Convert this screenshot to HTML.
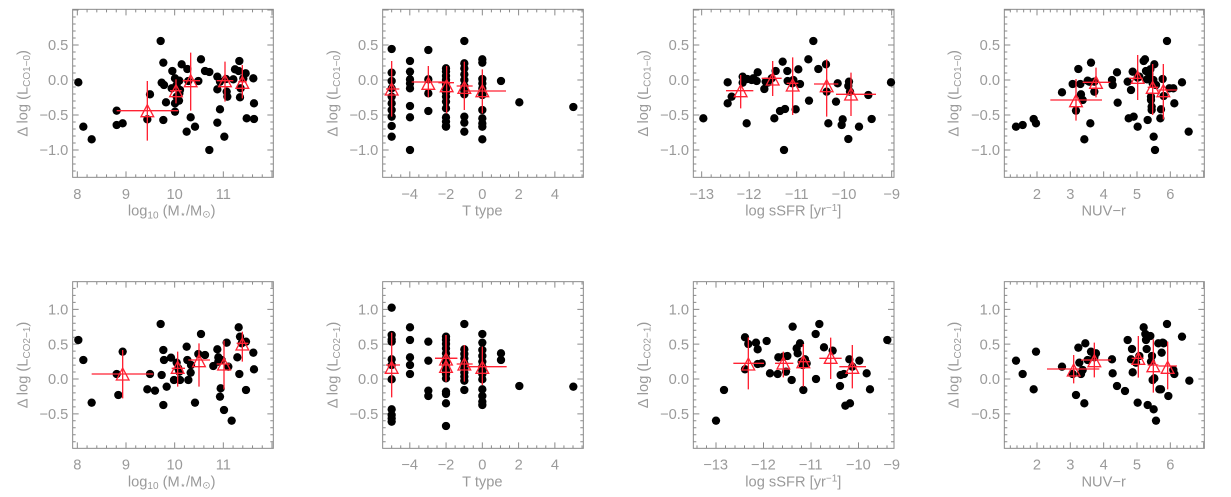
<!DOCTYPE html>
<html><head><meta charset="utf-8"><style>
html,body{margin:0;padding:0;background:#fff;}
svg{display:block;font-family:"Liberation Sans","DejaVu Sans",sans-serif;}
.t{fill:#9a9a9a;font-size:44px;}
</style></head><body>
<svg id="s" width="1231" height="497" viewBox="0 0 1231 497" xmlns="http://www.w3.org/2000/svg">
<g id="p0" transform="translate(0,0) scale(0.33333)">
 <text class="t" x="205" y="150" text-anchor="end">0.5</text><text class="t" x="205" y="255" text-anchor="end">0.0</text><text class="t" x="205" y="360" text-anchor="end">−0.5</text><text class="t" x="205" y="465" text-anchor="end">−1.0</text>
 <text class="t" x="232" y="597" text-anchor="middle">8</text><text class="t" x="378" y="597" text-anchor="middle">9</text><text class="t" x="524" y="597" text-anchor="middle">10</text><text class="t" x="670" y="597" text-anchor="middle">11</text>
 <text class="t" x="515" y="647" text-anchor="middle">log<tspan font-size="30" dy="8">10</tspan><tspan dy="-8"> (M</tspan><tspan font-size="30" dy="6">⋆</tspan><tspan dy="-6">/M</tspan><tspan font-size="30" dy="6">⊙</tspan><tspan dy="-6">)</tspan></text>
 <text class="t" transform="translate(82,280) rotate(-90)" text-anchor="middle">Δ log (L<tspan font-size="30" dy="8">CO1−0</tspan><tspan dy="-8">)</tspan></text>
</g>
<g id="p1" transform="translate(310,0) scale(0.33333)">
 <text class="t" x="205" y="150" text-anchor="end">0.5</text><text class="t" x="205" y="255" text-anchor="end">0.0</text><text class="t" x="205" y="360" text-anchor="end">−0.5</text><text class="t" x="205" y="465" text-anchor="end">−1.0</text>
 <text class="t" x="299" y="597" text-anchor="middle">−4</text><text class="t" x="408" y="597" text-anchor="middle">−2</text><text class="t" x="517" y="597" text-anchor="middle">0</text><text class="t" x="626" y="597" text-anchor="middle">2</text><text class="t" x="735" y="597" text-anchor="middle">4</text>
 <text class="t" x="517" y="647" text-anchor="middle">T  type</text>
 <text class="t" transform="translate(82,280) rotate(-90)" text-anchor="middle">Δ log (L<tspan font-size="30" dy="8">CO1−0</tspan><tspan dy="-8">)</tspan></text>
</g>
<g id="p2" transform="translate(620,0) scale(0.33333)">
 <text class="t" x="207" y="150" text-anchor="end">0.5</text><text class="t" x="207" y="255" text-anchor="end">0.0</text><text class="t" x="207" y="360" text-anchor="end">−0.5</text><text class="t" x="207" y="465" text-anchor="end">−1.0</text>
 <text class="t" x="245" y="597" text-anchor="middle">−13</text><text class="t" x="387" y="597" text-anchor="middle">−12</text><text class="t" x="530" y="597" text-anchor="middle">−11</text><text class="t" x="672" y="597" text-anchor="middle">−10</text><text class="t" x="815" y="597" text-anchor="middle">−9</text>
 <text class="t" x="520" y="647" text-anchor="middle">log sSFR [yr<tspan font-size="30" dy="-14">−1</tspan><tspan dy="14">]</tspan></text>
 <text class="t" transform="translate(84,280) rotate(-90)" text-anchor="middle">Δ log (L<tspan font-size="30" dy="8">CO1−0</tspan><tspan dy="-8">)</tspan></text>
</g>
<g id="p3" transform="translate(921,0) scale(0.33333)">
 <text class="t" x="237" y="150" text-anchor="end">0.5</text><text class="t" x="237" y="255" text-anchor="end">0.0</text><text class="t" x="237" y="360" text-anchor="end">−0.5</text><text class="t" x="237" y="465" text-anchor="end">−1.0</text>
 <text class="t" x="348" y="597" text-anchor="middle">2</text><text class="t" x="448" y="597" text-anchor="middle">3</text><text class="t" x="548" y="597" text-anchor="middle">4</text><text class="t" x="648" y="597" text-anchor="middle">5</text><text class="t" x="748" y="597" text-anchor="middle">6</text>
 <text class="t" x="548" y="647" text-anchor="middle">NUV−r</text>
 <text class="t" transform="translate(112,280) rotate(-90)" text-anchor="middle">Δ log (L<tspan font-size="30" dy="8">CO1−0</tspan><tspan dy="-8">)</tspan></text>
</g>
<g id="p4" transform="translate(0,250) scale(0.33333)">
 <text class="t" x="205" y="193" text-anchor="end">1.0</text><text class="t" x="205" y="298" text-anchor="end">0.5</text><text class="t" x="205" y="402" text-anchor="end">0.0</text><text class="t" x="205" y="507" text-anchor="end">−0.5</text>
 <text class="t" x="232" y="659" text-anchor="middle">8</text><text class="t" x="378" y="659" text-anchor="middle">9</text><text class="t" x="524" y="659" text-anchor="middle">10</text><text class="t" x="670" y="659" text-anchor="middle">11</text>
 <text class="t" x="515" y="709" text-anchor="middle">log<tspan font-size="30" dy="8">10</tspan><tspan dy="-8"> (M</tspan><tspan font-size="30" dy="6">⋆</tspan><tspan dy="-6">/M</tspan><tspan font-size="30" dy="6">⊙</tspan><tspan dy="-6">)</tspan></text>
 <text class="t" transform="translate(82,345) rotate(-90)" text-anchor="middle">Δ log (L<tspan font-size="30" dy="8">CO2−1</tspan><tspan dy="-8">)</tspan></text>
</g>
<g id="p5" transform="translate(310,250) scale(0.33333)">
 <text class="t" x="205" y="193" text-anchor="end">1.0</text><text class="t" x="205" y="298" text-anchor="end">0.5</text><text class="t" x="205" y="402" text-anchor="end">0.0</text><text class="t" x="205" y="507" text-anchor="end">−0.5</text>
 <text class="t" x="299" y="659" text-anchor="middle">−4</text><text class="t" x="408" y="659" text-anchor="middle">−2</text><text class="t" x="517" y="659" text-anchor="middle">0</text><text class="t" x="626" y="659" text-anchor="middle">2</text><text class="t" x="735" y="659" text-anchor="middle">4</text>
 <text class="t" x="517" y="709" text-anchor="middle">T  type</text>
 <text class="t" transform="translate(82,345) rotate(-90)" text-anchor="middle">Δ log (L<tspan font-size="30" dy="8">CO2−1</tspan><tspan dy="-8">)</tspan></text>
</g>
<g id="p6" transform="translate(620,250) scale(0.33333)">
 <text class="t" x="207" y="193" text-anchor="end">1.0</text><text class="t" x="207" y="298" text-anchor="end">0.5</text><text class="t" x="207" y="402" text-anchor="end">0.0</text><text class="t" x="207" y="507" text-anchor="end">−0.5</text>
 <text class="t" x="287" y="659" text-anchor="middle">−13</text><text class="t" x="430" y="659" text-anchor="middle">−12</text><text class="t" x="572" y="659" text-anchor="middle">−11</text><text class="t" x="715" y="659" text-anchor="middle">−10</text><text class="t" x="815" y="659" text-anchor="middle">−9</text>
 <text class="t" x="520" y="709" text-anchor="middle">log sSFR [yr<tspan font-size="30" dy="-14">−1</tspan><tspan dy="14">]</tspan></text>
 <text class="t" transform="translate(84,345) rotate(-90)" text-anchor="middle">Δ log (L<tspan font-size="30" dy="8">CO2−1</tspan><tspan dy="-8">)</tspan></text>
</g>
<g id="p7" transform="translate(921,250) scale(0.33333)">
 <text class="t" x="237" y="193" text-anchor="end">1.0</text><text class="t" x="237" y="298" text-anchor="end">0.5</text><text class="t" x="237" y="402" text-anchor="end">0.0</text><text class="t" x="237" y="507" text-anchor="end">−0.5</text>
 <text class="t" x="348" y="659" text-anchor="middle">2</text><text class="t" x="448" y="659" text-anchor="middle">3</text><text class="t" x="548" y="659" text-anchor="middle">4</text><text class="t" x="648" y="659" text-anchor="middle">5</text><text class="t" x="748" y="659" text-anchor="middle">6</text>
 <text class="t" x="548" y="709" text-anchor="middle">NUV−r</text>
 <text class="t" transform="translate(112,345) rotate(-90)" text-anchor="middle">Δ log (L<tspan font-size="30" dy="8">CO2−1</tspan><tspan dy="-8">)</tspan></text>
</g>
</svg>
<script>
var NS="http://www.w3.org/2000/svg";
function el(p,n,a){var e=document.createElementNS(NS,n);for(var k in a)e.setAttribute(k,a[k]);p.appendChild(e);return e;}
var RT={y0:28,y1:532,yf:function(v){return 240-210*v},ymin:-1.4,ymax:1.0};
var RB={y0:95,y1:595,yf:function(v){return 387-209*v},ymin:-1.0,ymax:1.4};
var cols=[
 {x0:218,x1:820,xf:function(v){return 232+146*(v-8)},xmin:7.9,xmax:12,maj:1,mn:0.2},
 {x0:218,x1:820,xf:function(v){return 517+54.4*v},xmin:-5.5,xmax:5.5,maj:2,mn:0.5},
 {x0:220,x1:822,xf:function(v){return 245+142.5*(v+13)},xmin:-13.2,xmax:-9,maj:1,mn:0.2},
 {x0:250,x1:850,xf:function(v){return 348+100*(v-2)},xmin:1,xmax:7,maj:1,mn:0.2}
];
var col6={x0:220,x1:822,xf:function(v){return 288+142.5*(v+13)},xmin:-13.5,xmax:-8.9,maj:1,mn:0.2};
function T(col,ys){return ys.map(function(y){return [col,y]});}
var P=[];
P[0]={pts:[[235,247],[250,380],[275,418],[350,332],[350,375],[368,370],[442,358],[450,283],[482,123],[490,188],[485,248],[492,255],[490,360],[498,307],[517,213],[515,265],[525,235],[530,255],[525,335],[525,310],[538,280],[537,302],[538,242],[545,193],[560,395],[562,207],[565,243],[572,352],[585,380],[595,243],[603,178],[615,213],[628,216],[628,450],[652,230],[652,268],[652,368],[660,245],[660,328],[673,410],[678,237],[682,290],[680,275],[700,238],[705,208],[716,213],[718,183],[720,292],[722,265],[730,235],[737,220],[740,355],[760,235],[762,310],[762,357],[540,270],[530,290]],
 red:[[442,335,243,422,350,535,332],[528,275,238,310,510,545,272],[572,245,158,332,548,600,242],[675,245,185,305,650,700,242],[727,250,195,295,715,740,245]]};
P[1]={pts:[].concat(T(245,[147,218,243,265,290,310,330,350,378,410]),T(300,[183,215,238,250,265,318,352,450]),T(355,[150,238,280,333]),T(408,[205,215,228,240,252,265,278,290,305,325,352,365,378,380]),T(463,[123,190,205,223,240,258,272,283,350,368,395]),T(517,[178,188,237,250,265,285,330,355,370,380,418]),[[573,243],[628,307],[790,321]]),
 red:[[245,270,183,350,228,268,267],[355,253,198,292,305,405,246],[410,260,198,340,385,432,248],[463,265,185,330,440,488,258],[517,275,208,340,460,588,273]]};
P[2]={pts:[[250,355],[323,310],[323,247],[335,290],[368,230],[368,248],[380,370],[382,237],[395,240],[400,235],[413,217],[410,243],[433,267],[437,245],[443,248],[467,213],[463,355],[480,333],[488,185],[495,327],[492,450],[502,213],[503,243],[517,250],[527,328],[535,208],[540,252],[565,178],[567,302],[580,123],[595,207],[618,193],[620,275],[625,370],[648,305],[653,250],[665,375],[668,358],[685,417],[685,258],[687,245],[690,275],[717,380],[745,285],[755,357],[813,247],[455,235],[520,240]],
 red:[[362,275,225,325,318,400,272],[458,240,183,288,425,485,235],[518,258,172,345,500,535,250],[620,260,178,350,582,655,252],[693,285,218,348,648,768,283]]};
P[3]={pts:[[285,380],[305,375],[338,357],[345,370],[423,277],[455,252],[465,332],[472,207],[478,252],[480,283],[485,300],[490,418],[500,242],[505,245],[510,188],[508,370],[520,275],[520,245],[573,240],[575,255],[588,217],[590,308],[620,245],[623,355],[630,270],[635,215],[638,350],[650,380],[650,233],[655,230],[668,183],[672,178],[675,213],[678,238],[680,360],[685,222],[688,208],[690,290],[692,330],[692,320],[695,250],[697,240],[698,410],[700,193],[702,450],[705,255],[718,355],[720,328],[725,237],[728,288],[738,123],[745,265],[757,265],[760,310],[783,247],[803,395],[690,300]],
 red:[[465,305,237,362,388,543,300],[525,250,203,292,485,568,247],[650,235,165,300,625,665,235],[695,265,192,345,680,712,262],[727,275,192,358,712,768,270]]};
P[4]={pts:[[235,270],[250,330],[275,458],[350,372],[355,435],[368,305],[442,418],[450,372],[465,422],[482,222],[485,375],[490,300],[492,330],[490,465],[500,410],[513,323],[522,390],[530,338],[535,355],[540,390],[538,365],[560,290],[562,330],[565,390],[572,368],[573,345],[585,458],[595,312],[603,252],[615,315],[640,348],[652,298],[655,322],[660,440],[662,415],[672,480],[680,278],[685,350],[695,512],[712,322],[716,232],[718,372],[720,260],[725,280],[738,275],[738,420],[760,308],[762,358],[655,335],[665,330]],
 red:[[368,375,300,445,275,460,372],[533,355,305,410,515,555,355],[597,335,280,410,565,630,330],[672,345,272,418,650,690,342],[727,285,245,335,710,745,280]]};
P[5]={pts:[].concat(T(245,[173,255,268,275,328,345,388,478,495,505,515]),T(300,[232,270,322,345,372]),T(355,[275,332,422,438]),T(408,[260,270,282,295,310,325,338,350,362,372,385,425,432,460,528]),T(463,[222,298,312,325,340,355,368,380,392,420]),T(517,[252,278,300,318,335,350,362,372,388,418,438,455,465]),[[573,310],[573,330],[628,408],[790,410]]),
 red:[[245,355,248,442,228,270,345],[408,330,255,395,375,442,325],[408,352,255,395,375,442,325],[463,345,285,395,440,488,342],[517,355,290,405,470,590,350]]};
P[6]={pts:[[288,512],[312,420],[375,262],[375,358],[385,282],[408,278],[413,298],[413,342],[425,340],[440,273],[450,370],[473,372],[475,322],[490,320],[498,365],[502,318],[515,390],[518,230],[530,295],[533,310],[540,280],[548,345],[550,420],[555,328],[560,340],[587,252],[588,387],[598,222],[612,292],[638,302],[660,408],[662,375],[672,372],[676,467],[690,460],[688,328],[697,350],[718,332],[740,370],[750,418],[802,270],[545,335]],
 red:[[385,345,262,418,340,432,340],[490,342,305,382,465,520,340],[550,338,282,410,535,570,335],[632,325,263,387,598,665,325],[697,355,285,415,658,738,350]]};
P[7]={pts:[[285,332],[305,372],[338,418],[345,305],[423,350],[455,372],[465,435],[472,293],[475,338],[480,372],[485,360],[490,460],[493,280],[500,330],[510,305],[520,322],[525,310],[573,328],[575,370],[588,408],[612,423],[620,270],[630,328],[633,297],[635,367],[645,338],[650,458],[655,318],[668,232],[673,252],[675,270],[677,297],[680,465],[688,258],[690,335],[693,318],[695,390],[698,478],[700,385],[705,512],[712,280],[715,418],[720,418],[722,308],[725,278],[728,280],[738,222],[742,438],[757,360],[760,372],[783,260],[805,392]],
 red:[[458,363,315,400,378,535,357],[520,335,278,382,480,570,330],[652,328,258,383,632,668,325],[697,350,268,428,680,712,345],[740,355,275,418,712,768,348]]};
for(var i=0;i<8;i++){
 var g=document.getElementById('p'+i),c=(i==6)?col6:cols[i%4],r=i<4?RT:RB,ax='#8a8a8a';
 el(g,'rect',{x:c.x0,y:r.y0,width:c.x1-c.x0,height:r.y1-r.y0,fill:'none',stroke:ax,'stroke-width':3});
 var d='';
 for(var v=Math.ceil(r.ymin*10-1e-6);v<=r.ymax*10+1e-6;v++){var y=r.yf(v/10);if(y<r.y0+1||y>r.y1-1)continue;var L=(v%5==0)?18:9;d+='M'+c.x0+' '+y+'h'+L+'M'+c.x1+' '+y+'h'+(-L);}
 var n0=Math.ceil(c.xmin/c.mn-1e-6),n1=Math.floor(c.xmax/c.mn+1e-6);
 for(var k=n0;k<=n1;k++){var xv=k*c.mn,x=c.xf(xv);if(x<c.x0+1||x>c.x1-1)continue;var mj=Math.abs(xv/c.maj-Math.round(xv/c.maj))<1e-6;var L=mj?18:9;d+='M'+x+' '+r.y1+'v'+(-L)+'M'+x+' '+r.y0+'v'+L;}
 el(g,'path',{d:d,stroke:ax,'stroke-width':3,fill:'none'});
 P[i].pts.forEach(function(p){el(g,'circle',{cx:p[0],cy:p[1],r:12.5,fill:'#000'});});
 P[i].red.forEach(function(q){
  el(g,'path',{d:'M'+q[0]+' '+q[2]+'V'+q[3]+'M'+q[4]+' '+q[6]+'H'+q[5],stroke:'#f23',"stroke-width":4,fill:'none'});
  var x=q[0],y=q[1];
  el(g,'path',{d:'M'+(x-19)+' '+(y+15)+'L'+x+' '+(y-21)+'L'+(x+19)+' '+(y+15)+'Z',stroke:'#f23','stroke-width':4,fill:'none'});
 });
}
</script>
</body></html>
